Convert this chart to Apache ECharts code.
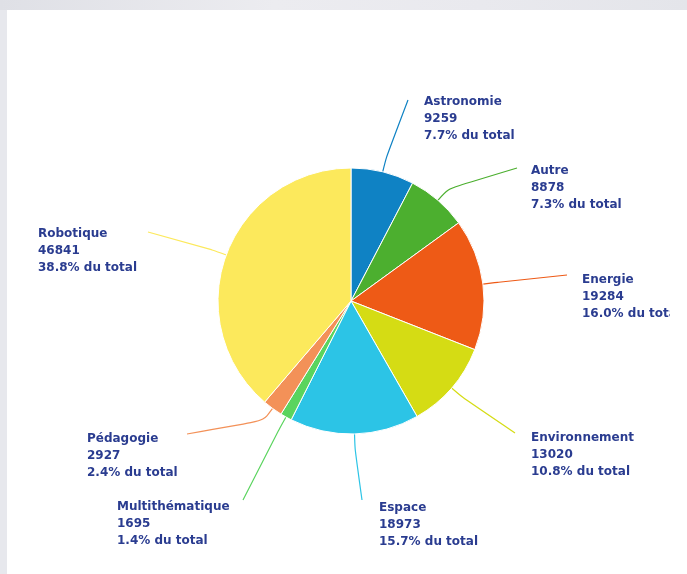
<!DOCTYPE html>
<html><head><meta charset="utf-8">
<script src="https://cdn.jsdelivr.net/npm/echarts@6/dist/echarts.min.js"></script>
<style>
html,body{margin:0;padding:0;width:687px;height:574px;overflow:hidden;background:#e7e8ed;}
#band{position:absolute;left:0;top:0;width:687px;height:10px;background:linear-gradient(90deg,#dfe0e6,#ececf0 40%,#e9e9ee 70%,#e4e5ea);}
#panel{position:absolute;left:7px;top:10px;width:680px;height:564px;background:#fff;}
#chart{position:absolute;left:0;top:0;width:670px;height:574px;}
</style></head><body>
<div id="band"></div><div id="panel"></div><div id="chart"></div>
<script>
// ---- data ----
const categories = ['Astronomie','Autre','Energie','Environnement','Espace','Multithématique','Pédagogie','Robotique'];
const values = [9259, 8878, 19284, 13020, 18973, 1695, 2927, 46841];
const pctSuffix = '% du total';

// ---- styles / layout ----
const palette = ['#0f82c4','#4caf2f','#ee5a16','#d5dc14','#2cc4e6','#5ad45e','#f39158','#fce95c'];
const CENTER = [351, 301];
const RADIUS = 133;
const labelAt = [[424,93],[531,162],[582,271],[531,429],[379,499],[117,498],[87,430],[38,225]];
const lineEnd = [[408,100],[517,168],[567,275],[515,433],[362,500],[243,500],[187,434],[148,232]];
const BEND = 15;

const total = values.reduce((a, b) => a + b, 0);
const chart = echarts.init(document.getElementById('chart'), null, {renderer: 'canvas'});

chart.setOption({
  animation: false,
  backgroundColor: 'transparent',
  series: [{
    type: 'pie',
    center: CENTER,
    radius: [0, RADIUS],
    startAngle: 90,
    clockwise: true,
    avoidLabelOverlap: false,
    data: categories.map((c, i) => ({
      name: c, value: values[i],
      itemStyle: {color: palette[i]}
    })),
    itemStyle: {borderColor: '#ffffff', borderWidth: 1},
    label: {
      show: true,
      position: 'outside',
      color: '#2a3c90',
      fontFamily: 'DejaVu Sans',
      fontWeight: 'bold',
      fontSize: 12,
      lineHeight: 17,
      formatter: p => p.name + '\n' + p.value + '\n' + (p.value / total * 100).toFixed(1) + pctSuffix
    },
    labelLine: {show: true, smooth: 0.3, lineStyle: {width: 1.2}},
    labelLayout: function (params) {
      const i = params.dataIndex;
      const s = params.labelLinePoints[0];
      const dx = s[0] - CENTER[0], dy = s[1] - CENTER[1];
      const d = Math.sqrt(dx * dx + dy * dy) || 1;
      const mid = [s[0] + dx / d * BEND, s[1] + dy / d * BEND];
      return {
        x: labelAt[i][0], y: labelAt[i][1],
        align: 'left', verticalAlign: 'top',
        hideOverlap: false,
        labelLinePoints: [s, mid, lineEnd[i]]
      };
    }
  }]
});
</script>
</body></html>
